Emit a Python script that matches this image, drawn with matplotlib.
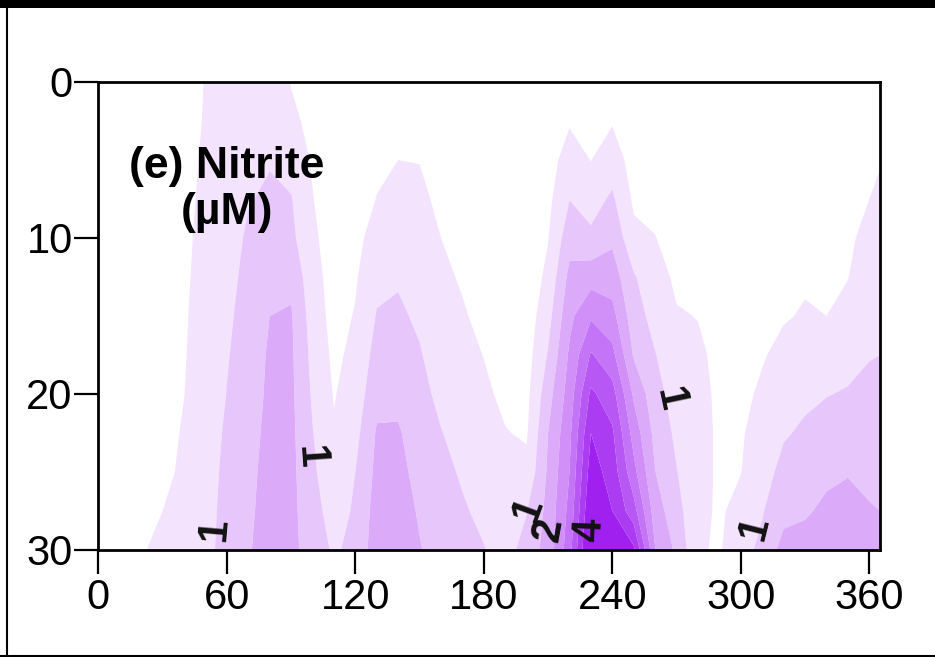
import numpy as np
import matplotlib
matplotlib.use("Agg")
import matplotlib.pyplot as plt
from matplotlib.lines import Line2D
from matplotlib.patches import Rectangle

plt.rcParams['font.family'] = ['Liberation Sans', 'DejaVu Sans']

# ---------------- data ----------------
days = [0, 10, 20, 30, 40, 50, 60, 70, 80, 90, 100, 110, 120, 130, 140, 150,
        160, 170, 180, 190, 200, 210, 220, 230, 240, 250, 260, 270, 280, 290,
        300, 310, 320, 330, 340, 350, 360, 365]
depths = [0, 2.5, 5, 7.5, 10, 12.5, 15, 17.5, 20, 22.5, 25, 27.5, 30]

# nitrite (uM): one depth profile (0 -> 30 m) per day
nitrite = [
    [0.10, 0.10, 0.10, 0.10, 0.12, 0.14, 0.16, 0.18, 0.20, 0.22, 0.25, 0.28, 0.30],  # 0
    [0.10, 0.10, 0.10, 0.12, 0.14, 0.16, 0.18, 0.21, 0.24, 0.28, 0.32, 0.36, 0.40],  # 10
    [0.10, 0.10, 0.12, 0.14, 0.16, 0.19, 0.22, 0.26, 0.30, 0.34, 0.38, 0.43, 0.48],  # 20
    [0.15, 0.17, 0.19, 0.21, 0.24, 0.27, 0.30, 0.33, 0.36, 0.39, 0.42, 0.50, 0.56],  # 30
    [0.28, 0.30, 0.33, 0.36, 0.39, 0.42, 0.45, 0.47, 0.495, 0.53, 0.56, 0.66, 0.80],  # 40
    [0.52, 0.54, 0.58, 0.62, 0.66, 0.68, 0.70, 0.71, 0.72, 0.73, 0.74, 0.75, 0.76],  # 50
    [0.70, 0.74, 0.78, 0.82, 0.85, 0.89, 0.93, 0.97, 1.01, 1.08, 1.15, 1.22, 1.30],  # 60
    [0.80, 0.85, 0.90, 0.98, 1.05, 1.10, 1.15, 1.20, 1.25, 1.30, 1.35, 1.40, 1.45],  # 70
    [0.85, 0.90, 0.98, 1.05, 1.15, 1.28, 1.50, 1.57, 1.60, 1.65, 1.70, 1.72, 1.75],  # 80
    [0.48, 0.60, 0.80, 1.03, 1.12, 1.38, 1.55, 1.58, 1.60, 1.62, 1.64, 1.66, 1.68],  # 90
    [0.30, 0.38, 0.45, 0.52, 0.60, 0.69, 0.78, 0.86, 0.94, 1.02, 1.08, 1.14, 1.20],  # 100
    [0.10, 0.12, 0.15, 0.20, 0.25, 0.30, 0.33, 0.40, 0.47, 0.55, 0.70, 0.84, 0.95],  # 110
    [0.15, 0.20, 0.25, 0.32, 0.38, 0.45, 0.53, 0.62, 0.72, 0.85, 1.00, 1.05, 1.10],  # 120
    [0.30, 0.37, 0.43, 0.51, 0.68, 0.88, 1.03, 1.18, 1.35, 1.55, 1.62, 1.72, 1.80],  # 130
    [0.42, 0.46, 0.50, 0.60, 0.75, 0.95, 1.08, 1.22, 1.38, 1.55, 1.63, 1.72, 1.78],  # 140
    [0.35, 0.42, 0.49, 0.58, 0.68, 0.80, 0.92, 1.04, 1.15, 1.26, 1.36, 1.45, 1.53],  # 150
    [0.20, 0.27, 0.34, 0.42, 0.50, 0.58, 0.67, 0.76, 0.88, 1.02, 1.12, 1.22, 1.30],  # 160
    [0.12, 0.18, 0.24, 0.30, 0.38, 0.46, 0.54, 0.63, 0.72, 0.82, 0.95, 1.05, 1.13],  # 170
    [0.08, 0.12, 0.16, 0.21, 0.26, 0.32, 0.40, 0.49, 0.58, 0.67, 0.78, 0.90, 1.02],  # 180
    [0.05, 0.08, 0.10, 0.13, 0.17, 0.21, 0.26, 0.32, 0.41, 0.52, 0.62, 0.72, 0.80],  # 190
    [0.05, 0.08, 0.10, 0.12, 0.15, 0.19, 0.24, 0.30, 0.37, 0.45, 0.62, 0.98, 1.20],  # 200
    [0.15, 0.22, 0.30, 0.38, 0.48, 0.62, 0.82, 1.04, 1.30, 1.50, 1.58, 1.65, 1.70],  # 210
    [0.30, 0.45, 0.72, 0.99, 1.30, 1.64, 1.88, 2.08, 2.23, 2.38, 2.50, 2.65, 2.80],  # 220
    [0.20, 0.35, 0.49, 0.80, 1.10, 1.80, 2.43, 3.05, 3.60, 4.00, 4.25, 4.50, 4.80],  # 230
    [0.30, 0.46, 0.76, 1.08, 1.40, 1.76, 2.17, 2.65, 3.20, 3.58, 3.78, 4.00, 4.20],  # 240
    [0.15, 0.22, 0.30, 0.42, 0.62, 1.05, 1.22, 1.45, 1.92, 2.30, 2.65, 3.20, 4.10],  # 250
    [0.15, 0.22, 0.30, 0.40, 0.51, 0.66, 0.83, 1.02, 1.18, 1.35, 1.51, 1.75, 2.02],  # 260
    [0.10, 0.15, 0.20, 0.27, 0.35, 0.43, 0.53, 0.66, 0.78, 0.90, 1.02, 1.18, 1.40],  # 270
    [0.10, 0.14, 0.18, 0.24, 0.30, 0.38, 0.49, 0.56, 0.60, 0.62, 0.62, 0.60, 0.55],  # 280
    [0.05, 0.08, 0.12, 0.17, 0.22, 0.28, 0.34, 0.42, 0.44, 0.45, 0.45, 0.45, 0.45],  # 290
    [0.05, 0.08, 0.12, 0.16, 0.20, 0.25, 0.30, 0.36, 0.41, 0.46, 0.49, 0.62, 0.85],  # 300
    [0.10, 0.14, 0.18, 0.23, 0.28, 0.34, 0.41, 0.47, 0.56, 0.67, 0.80, 0.97, 1.10],  # 310
    [0.15, 0.19, 0.24, 0.29, 0.35, 0.41, 0.47, 0.60, 0.76, 0.95, 1.15, 1.33, 1.70],  # 320
    [0.20, 0.24, 0.29, 0.34, 0.40, 0.46, 0.53, 0.68, 0.90, 1.08, 1.25, 1.44, 1.70],  # 330
    [0.20, 0.24, 0.28, 0.33, 0.38, 0.44, 0.50, 0.72, 0.98, 1.20, 1.40, 1.60, 1.80],  # 340
    [0.22, 0.27, 0.32, 0.37, 0.43, 0.49, 0.62, 0.84, 1.04, 1.24, 1.47, 1.67, 1.85],  # 350
    [0.30, 0.37, 0.43, 0.50, 0.62, 0.74, 0.86, 0.98, 1.10, 1.24, 1.38, 1.54, 1.75],  # 360
    [0.34, 0.41, 0.48, 0.56, 0.66, 0.77, 0.88, 1.00, 1.10, 1.20, 1.32, 1.50, 1.68],  # 365
]

fill_levels = [0.5, 1, 1.5, 2, 2.5, 3, 3.5, 4, 5]

# contour labels: text, (day, depth), rotation
label_texts = ["1", "1", "1", "2", "4", "1", "1"]
label_days = [54.4, 98.8, 200.6, 210.4, 229.5, 266.9, 306.6]
label_depths = [28.7, 24.0, 27.4, 28.7, 28.7, 20.3, 28.6]
label_angles = [85, -86, 70, 80, 88, -78, 76]

x_ticks = [0, 60, 120, 180, 240, 300, 360]
y_ticks = [0, 10, 20, 30]
title_text = "(e) Nitrite\n(\u00b5M)"

# ---------------- figure ----------------
fig = plt.figure(figsize=(9.35, 6.57), dpi=100)
ax = fig.add_axes([0.1052, 0.1629, 0.836, 0.7123])

Z = np.array(nitrite).T
white = np.array([1.0, 1.0, 1.0])
purple = np.array([160, 32, 240]) / 255.0
n = len(fill_levels) - 1
band_colors = [tuple(white + (purple - white) * (k / n)) for k in range(1, n + 1)]

ax.contourf(days, depths, Z, levels=fill_levels, colors=band_colors, antialiased=True)

for txt, xd, yd, ang in zip(label_texts, label_days, label_depths, label_angles):
    ax.text(xd, yd, txt, ha='center', va='center', rotation=ang,
            rotation_mode='anchor', fontsize=30, fontweight='bold', color='#111111')

ax.text(60, 6.9, title_text, ha='center', va='center', fontsize=32,
        fontweight='bold', linespacing=1.15, multialignment='center')

ax.set_xlim(0, 365)
ax.set_ylim(30, 0)
ax.set_xticks(x_ticks)
ax.set_yticks(y_ticks)
ax.tick_params(axis='both', direction='out', length=17, width=1.6,
               labelsize=30, color='black')
ax.tick_params(axis='x', pad=3)
ax.tick_params(axis='y', pad=1.5)
for s in ax.spines.values():
    s.set_linewidth(2.0)

# outer frame decorations
fig.add_artist(Rectangle((0, 1 - 7.5 / 657), 1, 7.5 / 657, transform=fig.transFigure,
                         facecolor='black', edgecolor='none'))
fig.add_artist(Line2D([7 / 935, 7 / 935], [0, 1], transform=fig.transFigure,
                      color='black', linewidth=1.5))
fig.add_artist(Line2D([0, 1], [1.5 / 657, 1.5 / 657], transform=fig.transFigure,
                      color='black', linewidth=1.5))

fig.savefig("out.png", dpi=100)
